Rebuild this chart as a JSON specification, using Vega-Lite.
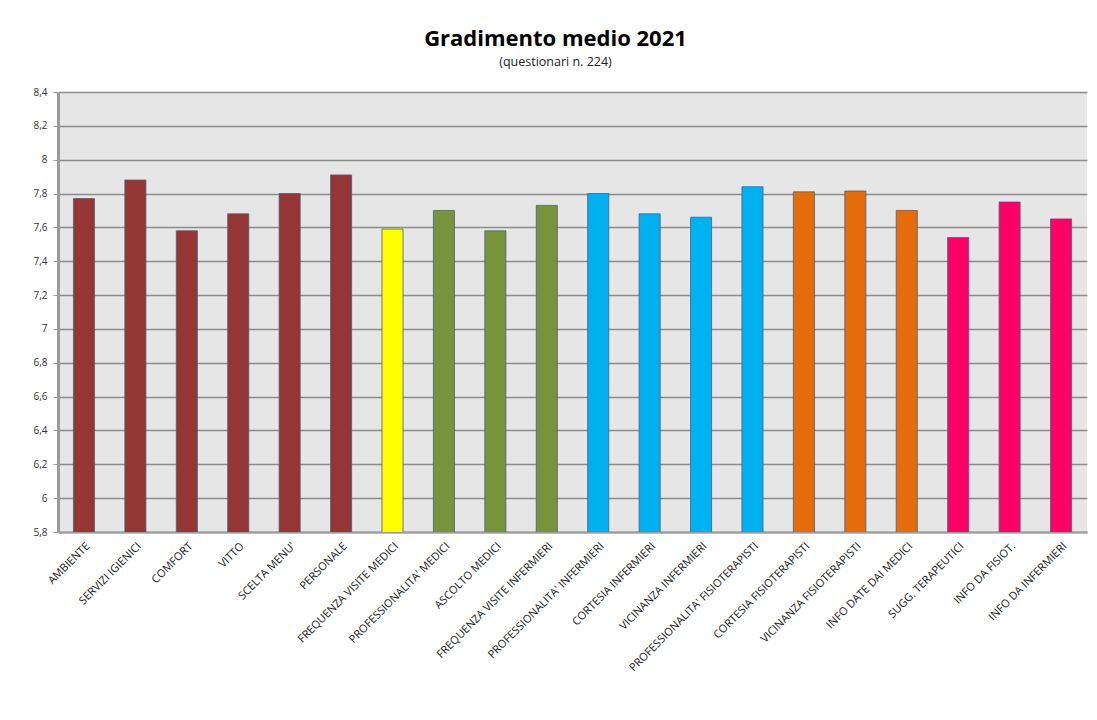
{
  "$schema": "https://vega.github.io/schema/vega-lite/v6.json",
  "autosize": "none",
  "width": 1029,
  "height": 440,
  "padding": {"left": 58, "top": 92, "right": 10, "bottom": 188},
  "background": "white",
  "title": {
    "text": "Gradimento medio  2021",
    "subtitle": "(questionari n. 224)",
    "anchor": "middle",
    "dx": -17,
    "offset": 18,
    "font": "Open Sans",
    "fontSize": 22,
    "fontWeight": "bold",
    "color": "#000000",
    "subtitleFont": "Open Sans",
    "subtitleFontSize": 12.5,
    "subtitleColor": "#222222",
    "subtitlePadding": 5
  },
  "data": {
    "values": [
      {"voce": "AMBIENTE", "valore": 7.77, "gruppo": "g1"},
      {"voce": "SERVIZI IGIENICI", "valore": 7.88, "gruppo": "g1"},
      {"voce": "COMFORT", "valore": 7.58, "gruppo": "g1"},
      {"voce": "VITTO", "valore": 7.68, "gruppo": "g1"},
      {"voce": "SCELTA MENU'", "valore": 7.8, "gruppo": "g1"},
      {"voce": "PERSONALE", "valore": 7.91, "gruppo": "g1"},
      {"voce": "FREQUENZA VISITE MEDICI", "valore": 7.59, "gruppo": "g2"},
      {"voce": "PROFESSIONALITA' MEDICI", "valore": 7.7, "gruppo": "g3"},
      {"voce": "ASCOLTO MEDICI", "valore": 7.58, "gruppo": "g3"},
      {"voce": "FREQUENZA VISITE INFERMIERI", "valore": 7.73, "gruppo": "g3"},
      {"voce": "PROFESSIONALITA' INFERMIERI", "valore": 7.8, "gruppo": "g4"},
      {"voce": "CORTESIA INFERMIERI", "valore": 7.68, "gruppo": "g4"},
      {"voce": "VICINANZA  INFERMIERI", "valore": 7.66, "gruppo": "g4"},
      {"voce": "PROFESSIONALITA' FISIOTERAPISTI", "valore": 7.84, "gruppo": "g4"},
      {"voce": "CORTESIA FISIOTERAPISTI", "valore": 7.81, "gruppo": "g5"},
      {"voce": "VICINANZA FISIOTERAPISTI", "valore": 7.815, "gruppo": "g5"},
      {"voce": "INFO DATE DAI MEDICI", "valore": 7.7, "gruppo": "g5"},
      {"voce": "SUGG. TERAPEUTICI", "valore": 7.54, "gruppo": "g6"},
      {"voce": "INFO DA FISIOT.", "valore": 7.75, "gruppo": "g6"},
      {"voce": "INFO DA INFERMIERI", "valore": 7.65, "gruppo": "g6"}
    ]
  },
  "mark": {"type": "bar", "stroke": "#4a5f80", "strokeWidth": 1, "strokeOpacity": 0.8, "clip": true},
  "encoding": {
    "x": {
      "field": "voce",
      "type": "nominal",
      "sort": null,
      "title": null,
      "scale": {"paddingInner": 0.59, "paddingOuter": 0.3},
      "axis": {
        "labelAngle": -45,
        "labelAlign": "right",
        "labelBaseline": "top",
        "labelFont": "Open Sans",
        "labelFontSize": 11,
        "labelColor": "#222222",
        "labelPadding": 8,
        "labelLimit": 300,
        "ticks": false,
        "domainColor": "#9a9a9a",
        "domainWidth": 2
      }
    },
    "y": {
      "field": "valore",
      "type": "quantitative",
      "title": null,
      "scale": {"domain": [5.8, 8.4], "nice": false, "zero": false},
      "axis": {
        "values": [5.8, 6, 6.2, 6.4, 6.6, 6.8, 7, 7.2, 7.4, 7.6, 7.8, 8, 8.2, 8.4],
        "labelExpr": "replace(format(datum.value, '.1~f'), '.', ',')",
        "labelFont": "Open Sans",
        "labelFontSize": 10,
        "labelColor": "#333333",
        "labelPadding": 6,
        "tickSize": 5,
        "tickColor": "#9a9a9a",
        "domainColor": "#9a9a9a",
        "domainWidth": 3,
        "grid": true,
        "gridColor": "#8c8c8c",
        "gridWidth": 1.5
      }
    },
    "color": {
      "field": "gruppo",
      "type": "nominal",
      "legend": null,
      "scale": {
        "domain": ["g1", "g2", "g3", "g4", "g5", "g6"],
        "range": ["#943634", "#ffff00", "#77933c", "#00b0f0", "#e46c0a", "#ff0066"]
      }
    }
  },
  "config": {
    "view": {"fill": "#e6e6e6", "stroke": null}
  }
}
